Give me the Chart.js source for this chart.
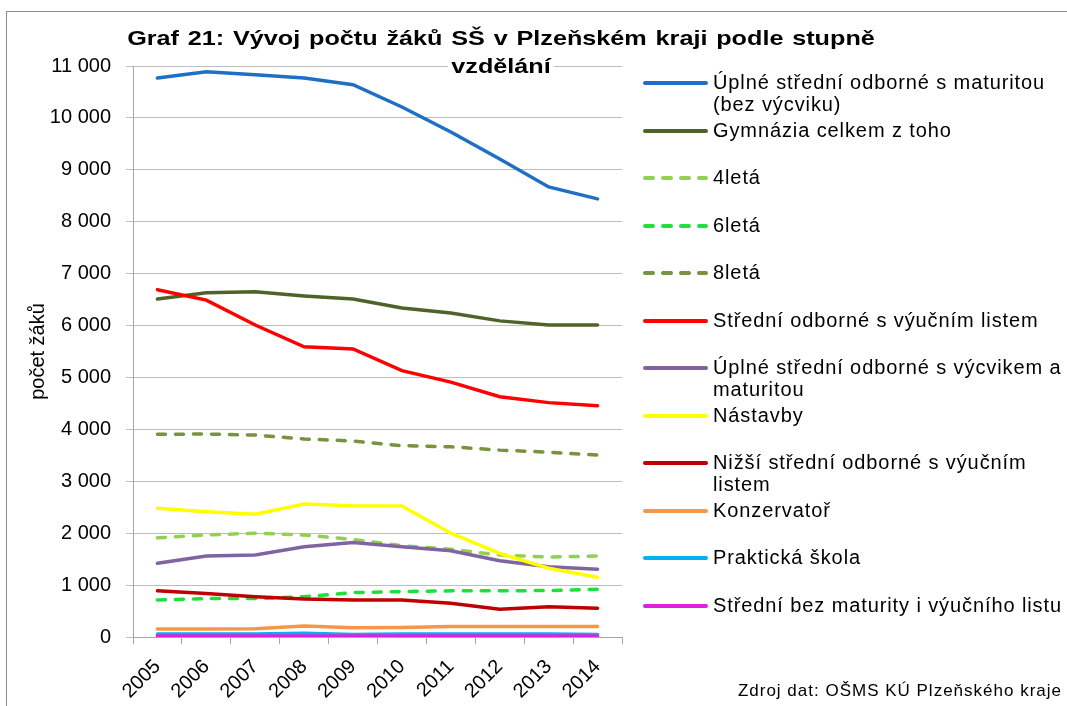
<!DOCTYPE html>
<html>
<head>
<meta charset="utf-8">
<script src="https://cdn.jsdelivr.net/npm/chart.js@4/dist/chart.umd.min.js"></script>
<style>
  html, body { margin: 0; padding: 0; background: #fff; }
  body { width: 1067px; height: 706px; position: relative; overflow: hidden; font-family: "Liberation Sans", Arial, sans-serif; }
  #frame { position: absolute; left: 6px; top: 11px; width: 1100px; height: 760px; border: 1px solid #8c8c8c; }
  #chart { position: absolute; left: 0; top: 0; }
  #title { position: absolute; left: 100px; width: 802px; top: 24px; text-align: center; font-weight: bold; font-size: 21px; line-height: 28px; color: #000; transform: scaleX(1.2); transform-origin: 401px 0; word-spacing: 1.5px; }
  #title span { background: #fff; padding: 0 3px; }
  #legend { position: absolute; left: 643px; top: 0; }
  .item { position: absolute; left: 0; width: 424px; font-size: 20px; line-height: 22px; color: #000; letter-spacing: 0.9px; }
  .item svg { position: absolute; left: 0; top: 9px; }
  .item div { position: absolute; left: 70px; top: 0; width: 354px; }
  #source { position: absolute; right: 5px; top: 681px; font-size: 17px; color: #000; letter-spacing: 1px; }
</style>
</head>
<body>
<div id="frame"></div>
<canvas id="chart" width="1067" height="706"></canvas>
<div id="title"><span>Graf 21: Vývoj počtu žáků SŠ v Plzeňském kraji podle stupně</span><br><span>vzdělání</span></div>
<div id="legend"></div>
<div id="source">Zdroj dat: OŠMS KÚ Plzeňského kraje</div>
<script>
// roky
const years = ['2005', '2006', '2007', '2008', '2009', '2010', '2011', '2012', '2013', '2014'];

// počty žáků podle stupně vzdělání
const uplneBezVycviku = [10770, 10890, 10830, 10770, 10640, 10210, 9730, 9210, 8670, 8440];
const gymnazia = [6510, 6630, 6650, 6570, 6510, 6340, 6240, 6090, 6010, 6010];
const ctyrleta = [1910, 1965, 2000, 1965, 1880, 1760, 1690, 1580, 1540, 1560];
const sestileta = [715, 740, 740, 775, 855, 875, 890, 890, 895, 920];
const osmileta = [3905, 3910, 3890, 3815, 3775, 3685, 3665, 3600, 3560, 3505];
const vyucniList = [6690, 6490, 6010, 5590, 5550, 5130, 4910, 4630, 4515, 4457];
const uplneSVycvikem = [1420, 1560, 1580, 1740, 1820, 1740, 1660, 1470, 1355, 1305];
const nastavby = [2480, 2415, 2365, 2560, 2530, 2525, 2000, 1610, 1325, 1150];
const nizsiVyucni = [890, 840, 775, 730, 715, 715, 650, 535, 585, 555];
const konzervator = [155, 155, 160, 210, 180, 185, 200, 200, 200, 200];
const prakticka = [60, 60, 60, 70, 50, 60, 60, 60, 60, 50];
const bezMaturity = [20, 20, 20, 20, 20, 20, 20, 20, 20, 20];

const yTicks = [0, 1000, 2000, 3000, 4000, 5000, 6000, 7000, 8000, 9000, 10000, 11000];

const series = [
  { label: 'Úplné střední odborné s maturitou (bez výcviku)', data: uplneBezVycviku, color: '#1f6fc5', dash: [] },
  { label: 'Gymnázia celkem z toho', data: gymnazia, color: '#4f6228', dash: [] },
  { label: '4letá', data: ctyrleta, color: '#92d050', dash: [8, 10] },
  { label: '6letá', data: sestileta, color: '#1fe03a', dash: [8, 10] },
  { label: '8letá', data: osmileta, color: '#77933c', dash: [8, 10] },
  { label: 'Střední odborné s výučním listem', data: vyucniList, color: '#ff0000', dash: [] },
  { label: 'Úplné střední odborné s výcvikem a maturitou', data: uplneSVycvikem, color: '#8064a2', dash: [] },
  { label: 'Nástavby', data: nastavby, color: '#ffff00', dash: [] },
  { label: 'Nižší střední odborné s výučním listem', data: nizsiVyucni, color: '#c00000', dash: [] },
  { label: 'Konzervatoř', data: konzervator, color: '#f79646', dash: [] },
  { label: 'Praktická škola', data: prakticka, color: '#00b0f0', dash: [] },
  { label: 'Střední bez maturity i výučního listu', data: bezMaturity, color: '#e020e0', dash: [] }
];

const fmt = v => String(v).replace(/\B(?=(\d{3})+(?!\d))/g, ' ');

const chart = new Chart(document.getElementById('chart'), {
  type: 'line',
  data: {
    labels: years,
    datasets: series.map((s, i) => ({
      label: s.label,
      data: s.data,
      borderColor: s.color,
      backgroundColor: s.color,
      borderWidth: 3.5,
      borderDash: s.dash,
      borderCapStyle: 'round',
      pointRadius: 0,
      tension: 0,
      order: -i
    }))
  },
  options: {
    responsive: false,
    animation: false,
    layout: { padding: { top: 66, right: 445, left: 0, bottom: 0 } },
    plugins: {
      legend: { display: false },
      title: { display: false },
      tooltip: { enabled: false }
    },
    scales: {
      x: {
        offset: true,
        afterFit: s => { s.height = 69; },
        grid: { offset: true, drawOnChartArea: false, color: '#a6a6a6', tickLength: 7 },
        border: { color: '#a6a6a6' },
        ticks: {
          color: '#000', maxRotation: 45, minRotation: 45, padding: 11,
          font: { family: 'Liberation Sans', size: 20 }
        }
      },
      y: {
        min: 0, max: 11000,
        afterFit: s => { s.width = 133; },
        afterBuildTicks: s => { s.ticks = yTicks.map(v => ({ value: v })); },
        grid: { color: '#bdbdbd', tickLength: 7 },
        border: { color: '#a6a6a6' },
        ticks: {
          color: '#000', padding: 15,
          font: { family: 'Liberation Sans', size: 20 },
          callback: v => fmt(v)
        },
        title: {
          display: true, text: 'počet žáků', color: '#000',
          padding: { top: 26, bottom: 0 },
          font: { family: 'Liberation Sans', size: 20 }
        }
      }
    }
  }
});

// legenda vpravo, víceřádkové popisky
const legend = document.getElementById('legend');
chart.data.datasets.forEach((ds, i) => {
  const item = document.createElement('div');
  item.className = 'item';
  item.style.top = (71 + i * 47.5) + 'px';
  const dash = ds.borderDash.length ? ' stroke-dasharray="8 10" stroke-linecap="round"' : ' stroke-linecap="round"';
  item.innerHTML = '<svg width="66" height="6"><line x1="2" y1="3" x2="63" y2="3" stroke="' + ds.borderColor +
    '" stroke-width="4"' + dash + '/></svg><div>' + ds.label + '</div>';
  legend.appendChild(item);
});
</script>
</body>
</html>
